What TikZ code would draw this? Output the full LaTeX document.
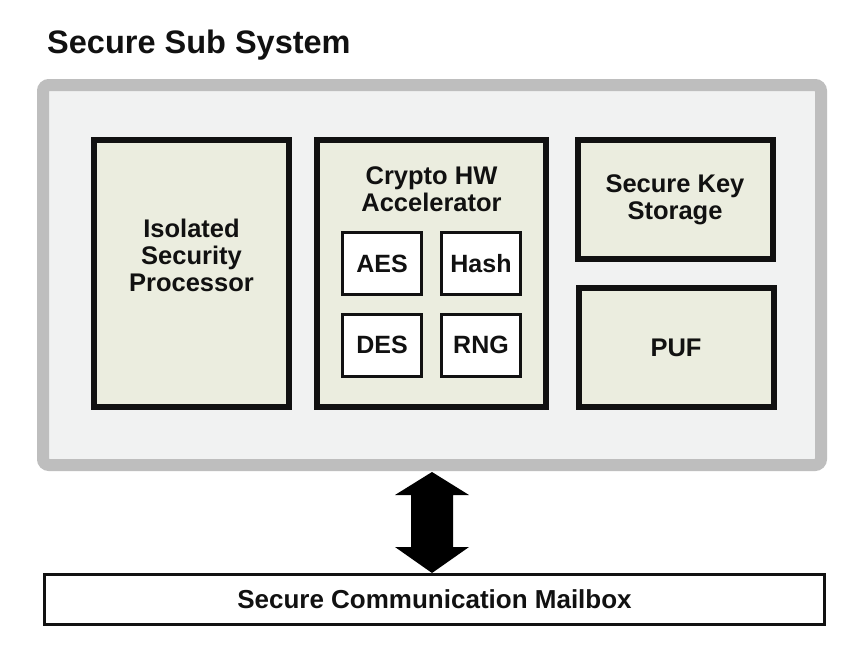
\documentclass[tikz,border=0pt]{standalone}
\usepackage{fontspec}
\setmainfont{Liberation Sans}
\usetikzlibrary{calc}
\definecolor{grayborder}{HTML}{BEBEBE}
\definecolor{panelfill}{HTML}{F1F2F2}
\definecolor{boxfill}{HTML}{EBEDDF}
\definecolor{ink}{HTML}{111111}
\tikzset{
  panel/.style={draw=grayborder, fill=panelfill, line width=12pt, rounded corners=6pt, minimum width=778pt, minimum height=380pt, inner sep=0pt},
  bigbox/.style={draw=ink, fill=boxfill, line width=6pt, inner sep=0pt, font=\fontsize{25.5}{27}\selectfont\bfseries, text=ink, align=center},
  subbox/.style={draw=ink, fill=white, line width=3pt, minimum width=79pt, minimum height=62pt, inner sep=0pt, font=\fontsize{25}{27}\selectfont\bfseries, text=ink},
  lbl/.style={font=\fontsize{25.5}{27}\selectfont\bfseries, text=ink, align=center, inner sep=0pt},
  mailbox/.style={draw=ink, fill=white, line width=3pt, minimum width=780pt, minimum height=50pt, inner sep=0pt, font=\fontsize{26}{28}\selectfont\bfseries, text=ink},
  arrowfill/.style={fill=black}
}
\begin{document}
\begin{tikzpicture}[x=1pt,y=-1pt]
\useasboundingbox (0,0) rectangle (859,662);
\fill[white] (0,0) rectangle (859,662);
\node[anchor=base west, inner sep=0pt, font=\fontsize{32.5}{34}\selectfont\bfseries, text=ink] (title) at (47,53) {Secure Sub System};
\node[panel] (outer) at (432,275) {};
\node[bigbox, minimum width=195pt, minimum height=267pt] (isp) at (191.5,273.5) {};
\node[lbl] (isptext) at (191.5,255) {Isolated\\Security\\Processor};
\node[bigbox, minimum width=229pt, minimum height=267pt] (crypto) at (431.5,273.5) {};
\node[lbl] (cryptotext) at (431.5,189) {Crypto HW\\Accelerator};
\node[subbox] (aes) at (382,263.5) {AES};
\node[subbox] (hash) at (481,263.5) {Hash};
\node[subbox] (des) at (382,345) {DES};
\node[subbox] (rng) at (481,345) {RNG};
\node[bigbox, minimum width=195pt, minimum height=119pt] (keys) at (675,199.5) {Secure Key\\Storage};
\node[bigbox, minimum width=195pt, minimum height=119pt] (puf) at (676,347.5) {PUF};
\node[mailbox] (mail) at (434.5,599.5) {Secure Communication Mailbox};
\coordinate (atop) at ($(outer.south)+(0,1)$);
\coordinate (abot) at (outer.south |- mail.north);
\fill[arrowfill] (atop) -- ($(atop)+(37,23)$) -- ($(atop)+(21,23)$) -- ($(abot)+(21,-26)$) -- ($(abot)+(37,-26)$) -- (abot) -- ($(abot)+(-37,-26)$) -- ($(abot)+(-21,-26)$) -- ($(atop)+(-21,23)$) -- ($(atop)+(-37,23)$) -- cycle;
\end{tikzpicture}
\end{document}
